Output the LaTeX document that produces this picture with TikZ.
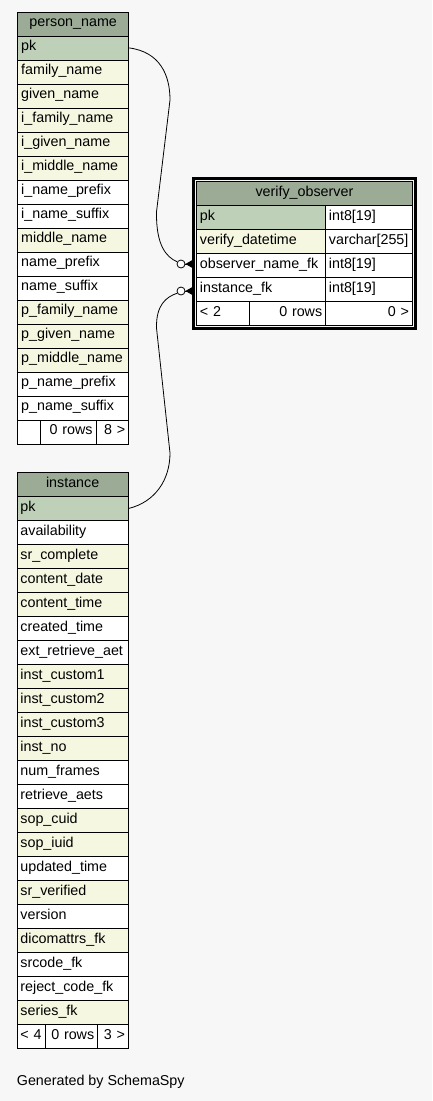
\documentclass[tikz,border=0pt]{standalone}
\usepackage{fontspec}
\setmainfont{Liberation Sans}
\usetikzlibrary{fit}
\definecolor{bgc}{HTML}{F7F7F7}
\definecolor{headc}{HTML}{9BAB96}
\definecolor{pkc}{HTML}{BED1B8}
\definecolor{yel}{HTML}{F5F7E0}
\newcommand{\fs}{\fontsize{14.3}{17}\selectfont}
\begin{document}
\begin{tikzpicture}[x=1pt,y=-1pt,
  cell/.style={draw=black, line width=0.8pt, minimum height=24pt, inner xsep=3.5pt, inner ysep=0pt,
    text height=9pt, text depth=3pt, anchor=north west, font=\fs, align=left},
  headcell/.style={cell, fill=headc, align=center},
  conn/.style={draw=black, line width=0.8pt},
  opt/.style={circle, draw=black, line width=0.8pt, fill=white, minimum size=8pt, inner sep=0pt}]
\fill[bgc] (0,0) rectangle (432,1101);
\useasboundingbox (0,0) rectangle (432,1101);

% person_name
\node[headcell, text width=104pt] (pn0) at (17.3,11.5) {person\_name};
\foreach \t/\c [count=\i] in {pk/pkc, family\_name/yel, given\_name/yel, i\_family\_name/yel, i\_given\_name/yel, i\_middle\_name/yel, i\_name\_prefix/white, i\_name\_suffix/white, middle\_name/yel, name\_prefix/white, name\_suffix/white, p\_family\_name/yel, p\_given\_name/yel, p\_middle\_name/yel, p\_name\_prefix/white, p\_name\_suffix/white}
  \node[cell, fill=\c, text width=104pt] (pn\i) at (17.3,{11.5+24*\i}) {\t};
\node[cell, fill=white, minimum width=22.7pt] (pnf1) at (17.3,419.5) {};
\node[cell, fill=white, text width=48.7pt, align=right] (pnf2) at (40,419.5) {0 rows\hspace*{2.5pt}};
\node[cell, fill=white, text width=25.6pt, align=right] (pnf3) at (95.7,419.5) {8 >};

% instance
\node[headcell, text width=104.5pt] (in0) at (16.5,472) {instance};
\foreach \t/\c [count=\i] in {pk/pkc, availability/white, sr\_complete/yel, content\_date/yel, content\_time/yel, created\_time/white, ext\_retrieve\_aet/white, inst\_custom1/yel, inst\_custom2/yel, inst\_custom3/yel, inst\_no/yel, num\_frames/white, retrieve\_aets/white, sop\_cuid/yel, sop\_iuid/yel, updated\_time/white, sr\_verified/yel, version/white, dicomattrs\_fk/yel, srcode\_fk/white, reject\_code\_fk/white, series\_fk/yel}
  \node[cell, fill=\c, text width=104.5pt] (in\i) at (16.5,{472+24*\i}) {\t};
\node[cell, fill=white, text width=21.8pt] (inf1) at (16.5,1024) {< 4};
\node[cell, fill=white, text width=45pt, align=right] (inf2) at (45.3,1024) {0 rows\hspace*{2.5pt}};
\node[cell, fill=white, text width=23.7pt, align=right] (inf3) at (97.3,1024) {3 >};

% verify_observer
\node[headcell, text width=209pt] (vo0) at (196,181) {verify\_observer};
\foreach \n/\c/\ty [count=\i] in {pk/pkc/int8[19], verify\_datetime/yel/varchar[255], observer\_name\_fk/white/int8[19], instance\_fk/white/int8[19]}{
  \node[cell, fill=\c, text width=122pt] (vo\i) at (196,{181+24*\i}) {\n};
  \node[cell, fill=white, text width=80pt] (vt\i) at (325,{181+24*\i}) {\ty};
}
\node[cell, fill=white, text width=46.3pt] (vof1) at (196,301) {< 2};
\node[cell, fill=white, text width=69pt, align=right] (vof2) at (249.3,301) {0 rows\hspace*{2.5pt}};
\node[cell, fill=white, text width=79.7pt, align=right] (vof3) at (325.3,301) {0 >};
\node[fit=(vo0)(vof3), draw=black, line width=3pt, inner sep=2.5pt] (frame) {};

% relationships
\node[opt] (c1) at (181,264) {};
\node[opt] (c2) at (181,291) {};
\draw[conn] (pn1.east) .. controls (160,52) and (170,75) .. (170,100) -- (156.5,212)
  .. controls (156,245) and (166,257) .. (c1.150);
\draw[conn] (in1.east) .. controls (155,502) and (170,480) .. (170,453) -- (156.5,328)
  .. controls (156,305) and (166,297) .. (c2.210);
\draw[conn] (c1.east) -- (c1.east -| frame.west);
\fill[black] (c1.east) -- ++(7,-4) -- ++(0,8) -- cycle;
\draw[conn] (c2.east) -- (c2.east -| frame.west);
\fill[black] (c2.east) -- ++(7,-4) -- ++(0,8) -- cycle;

\node[anchor=base west, font=\fs, inner sep=0pt] (gen) at (16.7,1085.5) {Generated by SchemaSpy};
\end{tikzpicture}
\end{document}
